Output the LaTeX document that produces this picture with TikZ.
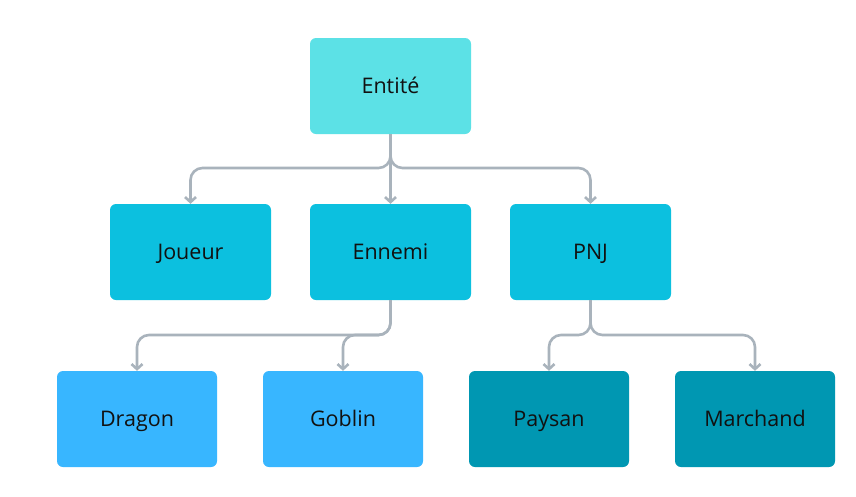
\documentclass[tikz,border=0pt]{standalone}
\usepackage{fontspec}
\setmainfont{Open Sans}
\usetikzlibrary{arrows.meta}
\definecolor{cTop}{HTML}{5CE1E6}
\definecolor{cMid}{HTML}{0CC0DF}
\definecolor{cBlue}{HTML}{38B6FF}
\definecolor{cTeal}{HTML}{0097B2}
\definecolor{cLine}{HTML}{A9B3BC}
\definecolor{cText}{HTML}{111111}
\tikzset{
  box/.style={rectangle, rounded corners=6pt, minimum width=161pt, minimum height=96pt,
    inner sep=0pt, text height=15.5pt, text depth=0pt, text=cText,
    font=\fontsize{21.5}{25}\selectfont},
  conn/.style={draw=cLine, line width=2.6pt, rounded corners=12pt,
    -{Straight Barb[length=5pt,width=11pt,line width=2.6pt]}}
}
\begin{document}
\begin{tikzpicture}[x=1pt,y=-1pt]
\useasboundingbox[fill=white] (0,0) rectangle (856,496);
\node[box, fill=cTop] (ent) at (390.5,86) {Entité};
\node[box, fill=cMid] (jou) at (190.5,252) {Joueur};
\node[box, fill=cMid] (enn) at (390.5,252) {Ennemi};
\node[box, fill=cMid] (pnj) at (590.5,252) {PNJ};
\node[box, fill=cBlue, minimum width=160pt] (dra) at (137,419) {Dragon};
\node[box, fill=cBlue, minimum width=160pt] (gob) at (343,419) {Goblin};
\node[box, fill=cTeal, minimum width=160pt] (pay) at (549,419) {Paysan};
\node[box, fill=cTeal, minimum width=160pt] (mar) at (755,419) {Marchand};
\coordinate (b1) at (390.5,168);
\coordinate (b2) at (390.5,335);
\coordinate (b3) at (590.5,335);
\draw[conn] (ent.south) |- (b1 -| jou.north) -- (jou.north);
\draw[conn] (ent.south) -- (enn.north);
\draw[conn] (ent.south) |- (b1 -| pnj.north) -- (pnj.north);
\draw[conn] (enn.south) |- (b2 -| dra.north) -- (dra.north);
\draw[conn] (enn.south) |- (b2 -| gob.north) -- (gob.north);
\draw[conn] (pnj.south) |- (b3 -| pay.north) -- (pay.north);
\draw[conn] (pnj.south) |- (b3 -| mar.north) -- (mar.north);
\end{tikzpicture}
\end{document}
